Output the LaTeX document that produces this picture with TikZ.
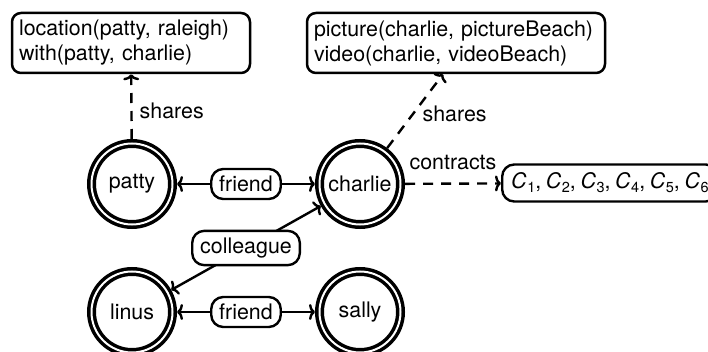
\documentclass[tikz,border=0pt]{standalone}
\usepackage{fontspec}
\setmainfont{TeX Gyre Heros}
\usetikzlibrary{arrows.meta}
% contract symbol with a lowered index
\newcommand\Cn[1]{\textit{C}\kern0.6pt\raisebox{-4pt}{\fontsize{14.5pt}{15pt}\selectfont #1}}
\newcommand\Csep{,\hspace{4.6pt}}
\begin{document}
\begin{tikzpicture}[x=1pt,y=-1pt,
  every node/.style={font=\fontsize{21.4pt}{25pt}\selectfont},
  agent/.style={circle, draw, double, double distance=2pt, line width=3.5pt,
    minimum size=81pt, inner sep=0pt, outer sep=4.5pt},
  factbox/.style={draw, line width=2.5pt, rounded corners=9pt, align=left,
    inner xsep=7pt, minimum height=60pt},
  rel/.style={draw, fill=white, line width=2.4pt, rounded corners=12pt,
    inner xsep=8pt, inner ysep=7pt},
  link/.style={line width=2.4pt, >={To[length=6pt,width=16pt]}},
  dlink/.style={link, dash pattern=on 10pt off 8pt},
  tag/.style={inner sep=2pt},
]
\useasboundingbox (0,0) rectangle (708,352);
\clip (0,0) rectangle (708,352);

% agents
\node[agent] (patty)   at (132,184) {patty};
\node[agent] (charlie) at (360,184) {charlie};
\node[agent] (linus)   at (132,312) {linus};
\node[agent] (sally)   at (360,312) {sally};

% shared facts and contracts
\node[factbox, text width=224pt] (tl) at (131,43)
  {location(patty, raleigh)\\with(patty, charlie)};
\node[factbox, text width=284pt] (tr) at (456,43)
  {picture(charlie, pictureBeach)\\video(charlie, videoBeach)};
\node[rel, anchor=west, minimum height=37pt, inner xsep=9pt] (cs) at (501,183)
  {\Cn1\Csep\Cn2\Csep\Cn3\Csep\Cn4\Csep\Cn5\Csep\Cn6};

% relations between agents
\draw[link,<->] (patty) -- (charlie) node[midway, rel] {friend};
\draw[link,<->] (linus) -- (sally) node[midway, rel] {friend};
\draw[link,<->] (linus) -- (charlie) node[midway, rel] {colleague};

% sharing and contracting
\draw[dlink,->] (patty) -- (tl) node[pos=0.44, right=5pt, tag] {shares};
\draw[dlink,->] (charlie) -- ([xshift=-13pt]tr.south)
  node[pos=0.47, right=6pt, tag] {shares};
\draw[dlink,->] (charlie) -- (cs) node[midway, above=11pt, tag] {contracts};
\end{tikzpicture}
\end{document}
